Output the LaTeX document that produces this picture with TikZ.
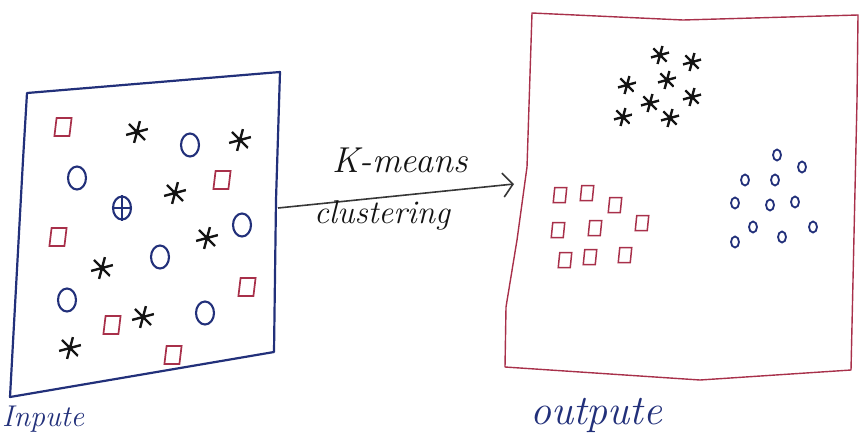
\documentclass[tikz,border=0pt]{standalone}
\usepackage{fontspec}
\usetikzlibrary{arrows.meta,shapes.geometric}
\definecolor{inkblue}{HTML}{22307A}
\definecolor{inkred}{HTML}{A8304A}
\definecolor{inkblack}{HTML}{141414}
\tikzset{
  sqL/.style={draw=inkred, line width=1.7pt, minimum width=15pt, minimum height=18pt, inner sep=0pt, xslant=0.12},
  sqR/.style={draw=inkred, line width=1.5pt, minimum width=12pt, minimum height=15pt, inner sep=0pt, xslant=0.1},
  ciL/.style={draw=inkblue, line width=2.1pt, ellipse, minimum width=18pt, minimum height=23pt, inner sep=0pt},
  ciR/.style={draw=inkblue, line width=1.8pt, ellipse, minimum width=8pt, minimum height=11pt, inner sep=0pt},
  astk/.style={circle, minimum size=#1, inner sep=0pt,
    path picture={\draw[inkblack, line width=2.4pt, line cap=round]
      (path picture bounding box.center) ++(75:#1/2) -- ++(255:#1)
      (path picture bounding box.center) ++(15:#1/2) -- ++(195:#1)
      (path picture bounding box.center) ++(135:#1/2) -- ++(315:#1);}},
  astL/.style={astk=23pt},
  astR/.style={astk=19pt},
  lbl/.style={font=\fontsize{36}{36}\selectfont\itshape, text=inkblack, inner sep=0pt},
  lblb/.style={font=\fontsize{42}{42}\selectfont\itshape, text=inkblue, inner sep=0pt}
}
\begin{document}
\begin{tikzpicture}[x=1pt, y=-1pt]
\useasboundingbox (0,0) rectangle (866,434);
% left box
\draw[inkblue, line width=2.2pt, line join=round] (27,93) -- (280,72) -- (276,200) -- (274,352) -- (10,397) -- (23,160) -- cycle;
% right box
\draw[inkred, line width=1.4pt, line join=round] (532,13) -- (683,20) -- (858,15) -- (857,100) -- (851,370) -- (700,380) -- (505,367) -- (506,307) -- (517,240) -- (527,167) -- cycle;
% left contents
\node[sqL] (ls1) at (63,127) {};
\node[sqL] (ls2) at (222,180) {};
\node[sqL] (ls3) at (58,237) {};
\node[sqL] (ls4) at (247,287) {};
\node[sqL] (ls5) at (112,325) {};
\node[sqL] (ls6) at (173,355) {};
\node[astL] (la1) at (137,132) {};
\node[astL] (la2) at (240,140) {};
\node[astL] (la3) at (175,193) {};
\node[astL] (la4) at (207,238) {};
\node[astL] (la5) at (102,268) {};
\node[astL] (la6) at (143,317) {};
\node[astL] (la7) at (70,348) {};
\node[ciL] (lc1) at (190,145) {};
\node[ciL] (lc2) at (77,178) {};
\node[ciL] (lc3) at (122,208) {};
\draw[inkblue, line width=1.6pt] (lc3.north) -- (lc3.south) (lc3.west) -- (lc3.east);
\node[ciL] (lc4) at (242,225) {};
\node[ciL] (lc5) at (160,257) {};
\node[ciL] (lc6) at (67,300) {};
\node[ciL] (lc7) at (205,313) {};
% arrow
\coordinate (L) at (278,208);
\coordinate (R) at (514,184);
\draw[inkblack!85, line width=1.6pt, -{Straight Barb[length=10pt, width=24pt]}] (L) -- (R);
\node[lbl] (t1) at (400,160) {K-means};
\node[font=\fontsize{33}{33}\selectfont\itshape, text=inkblack, inner sep=0pt] (t2) at (382,215) {clustering};
% right contents
\node[astR] (ra1) at (660,55) {};
\node[astR] (ra2) at (692,62) {};
\node[astR] (ra3) at (667,80) {};
\node[astR] (ra4) at (627,85) {};
\node[astR] (ra5) at (692,97) {};
\node[astR] (ra6) at (650,103) {};
\node[astR] (ra7) at (623,117) {};
\node[astR] (ra8) at (670,118) {};
\node[sqR] (rs1) at (560,195) {};
\node[sqR] (rs2) at (587,193) {};
\node[sqR] (rs3) at (615,205) {};
\node[sqR] (rs4) at (558,230) {};
\node[sqR] (rs5) at (595,228) {};
\node[sqR] (rs6) at (642,223) {};
\node[sqR] (rs7) at (565,260) {};
\node[sqR] (rs8) at (590,257) {};
\node[sqR] (rs9) at (625,255) {};
\node[ciR] (rc1) at (777,155) {};
\node[ciR] (rc2) at (802,167) {};
\node[ciR] (rc3) at (745,180) {};
\node[ciR] (rc4) at (775,180) {};
\node[ciR] (rc5) at (735,203) {};
\node[ciR] (rc6) at (770,205) {};
\node[ciR] (rc7) at (795,202) {};
\node[ciR] (rc8) at (753,227) {};
\node[ciR] (rc9) at (813,227) {};
\node[ciR] (rc10) at (782,237) {};
\node[ciR] (rc11) at (735,242) {};
% captions
\node[lblb, anchor=base west] (out) at (530,424) {outpute};
\node[font=\fontsize{30}{30}\selectfont\itshape, text=inkblue, inner sep=0pt, anchor=base west] (inp) at (2,426) {Inpute};
\end{tikzpicture}
\end{document}
